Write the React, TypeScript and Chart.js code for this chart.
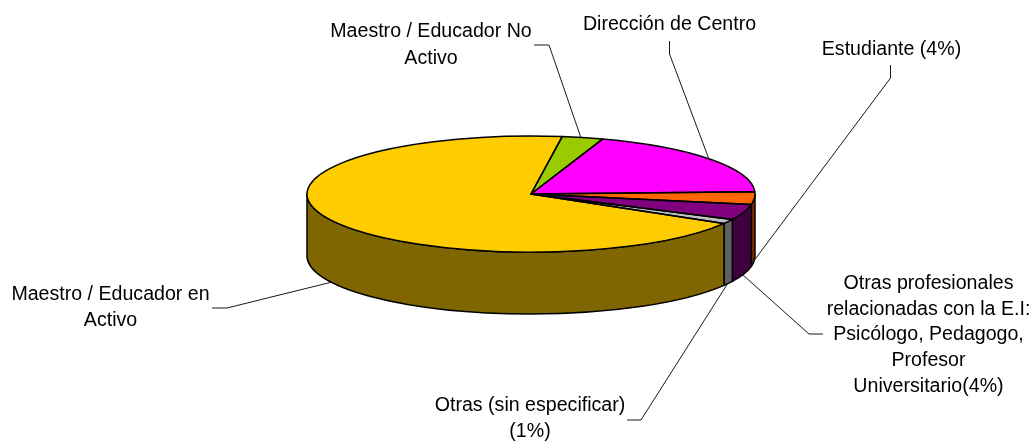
import React, { useEffect, useRef } from "react";
import { Chart, registerables } from "chart.js";

Chart.register(...registerables);

const categories = [
  "Maestro / Educador No Activo",
  "Dirección de Centro",
  "Estudiante (4%)",
  "Otras profesionales relacionadas con la E.I: Psicólogo, Pedagogo, Profesor Universitario(4%)",
  "Otras (sin especificar) (1%)",
  "Maestro / Educador en Activo",
];
const values = [2.95, 19.2, 3.5, 4.35, 1.25, 68.75];
const topColors = ["#99CC00", "#FF00FF", "#FF6600", "#800080", "#C0C0C0", "#FFCC00"];
const wallColors = ["#4D6600", "#800080", "#803300", "#400040", "#606060", "#806600"];

const CX = 531;
const CY = 194;
const RX = 224;
const RY = 58;
const DEPTH = 62;
const BASE_R = 194;
const FONT = '19.6px "Liberation Sans", Arial, sans-serif';

const labels = [
  { lines: ["Maestro / Educador No", "Activo"], x: 431, y: 32, pitch: 26.5 },
  { lines: ["Dirección de Centro"], x: 669.5, y: 25, pitch: 26 },
  { lines: ["Estudiante (4%)"], x: 891.5, y: 49.5, pitch: 26 },
  {
    lines: ["Otras profesionales", "relacionadas con la E.I:", "Psicólogo, Pedagogo,", "Profesor", "Universitario(4%)"],
    x: 928.5,
    y: 283.5,
    pitch: 25.7,
  },
  { lines: ["Otras (sin especificar)", "(1%)"], x: 530, y: 405.5, pitch: 26 },
  { lines: ["Maestro / Educador en", "Activo"], x: 110.5, y: 295, pitch: 26 },
];

const leaders = [
  [[534, 45], [549, 45], [581, 138]],
  [[669.5, 41], [669.5, 54], [708.5, 158]],
  [[890.5, 65], [890.5, 78], [750, 266]],
  [[823, 334], [809, 334], [743, 275]],
  [[627, 420], [641, 420], [728, 283]],
  [[212, 308], [227, 308], [332, 282]],
];

const pie3d = {
  id: "pie3d",
  beforeDatasetsDraw(chart: any) {
    const ctx = chart.ctx;
    const arcs = chart.getDatasetMeta(0).data;
    ctx.save();
    ctx.fillStyle = "#FFFFFF";
    ctx.fillRect(0, 0, chart.width, chart.height);
    ctx.lineWidth = 1.5;
    ctx.strokeStyle = "#000000";
    ctx.lineJoin = "round";
    arcs.forEach((a: any, i: number) => {
      const s = Math.max(a.startAngle, 0);
      const e = Math.min(a.endAngle, Math.PI);
      if (e <= s) return;
      ctx.beginPath();
      ctx.ellipse(a.x, a.y, RX, RY, 0, s, e);
      ctx.ellipse(a.x, a.y + DEPTH, RX, RY, 0, e, s, true);
      ctx.closePath();
      ctx.fillStyle = wallColors[i];
      ctx.fill();
      ctx.stroke();
    });
    ctx.restore();
    const a0 = arcs[0];
    ctx.save();
    ctx.translate(a0.x, a0.y);
    ctx.scale(RX / a0.outerRadius, RY / a0.outerRadius);
    ctx.translate(-a0.x, -a0.y);
  },
  afterDatasetsDraw(chart: any) {
    const ctx = chart.ctx;
    ctx.restore();
    const arcs = chart.getDatasetMeta(0).data;
    ctx.save();
    ctx.lineWidth = 1.5;
    ctx.strokeStyle = "#000000";
    ctx.lineJoin = "round";
    arcs.forEach((a: any) => {
      ctx.beginPath();
      ctx.moveTo(a.x, a.y);
      ctx.ellipse(a.x, a.y, RX, RY, 0, a.startAngle, a.endAngle);
      ctx.closePath();
      ctx.stroke();
    });
    ctx.lineWidth = 1;
    ctx.strokeStyle = "#1a1a1a";
    leaders.forEach((pts) => {
      ctx.beginPath();
      pts.forEach((p, i) => (i ? ctx.lineTo(p[0], p[1]) : ctx.moveTo(p[0], p[1])));
      ctx.stroke();
    });
    ctx.fillStyle = "#000000";
    ctx.font = FONT;
    ctx.textAlign = "center";
    ctx.textBaseline = "middle";
    labels.forEach((l) => {
      l.lines.forEach((t, i) => ctx.fillText(t, l.x, l.y + i * l.pitch));
    });
    ctx.restore();
  },
};

export default function App() {
  const ref = useRef<HTMLCanvasElement | null>(null);
  useEffect(() => {
    document.body.style.margin = "0";
    document.body.style.background = "#FFFFFF";
    const chart = new Chart(ref.current as HTMLCanvasElement, {
      type: "pie",
      data: {
        labels: categories,
        datasets: [{ data: values, backgroundColor: topColors, borderWidth: 0 }],
      },
      options: {
        responsive: false,
        animation: false,
        events: [],
        rotation: 8,
        layout: {
          padding: {
            left: CX - BASE_R,
            right: 1036 - CX - BASE_R,
            top: CY - BASE_R,
            bottom: 442 - CY - BASE_R,
          },
        },
        plugins: { legend: { display: false }, tooltip: { enabled: false } },
      },
      plugins: [pie3d],
    } as any);
    return () => chart.destroy();
  }, []);
  return <canvas ref={ref} width={1036} height={442} style={{ display: "block" }} />;
}
